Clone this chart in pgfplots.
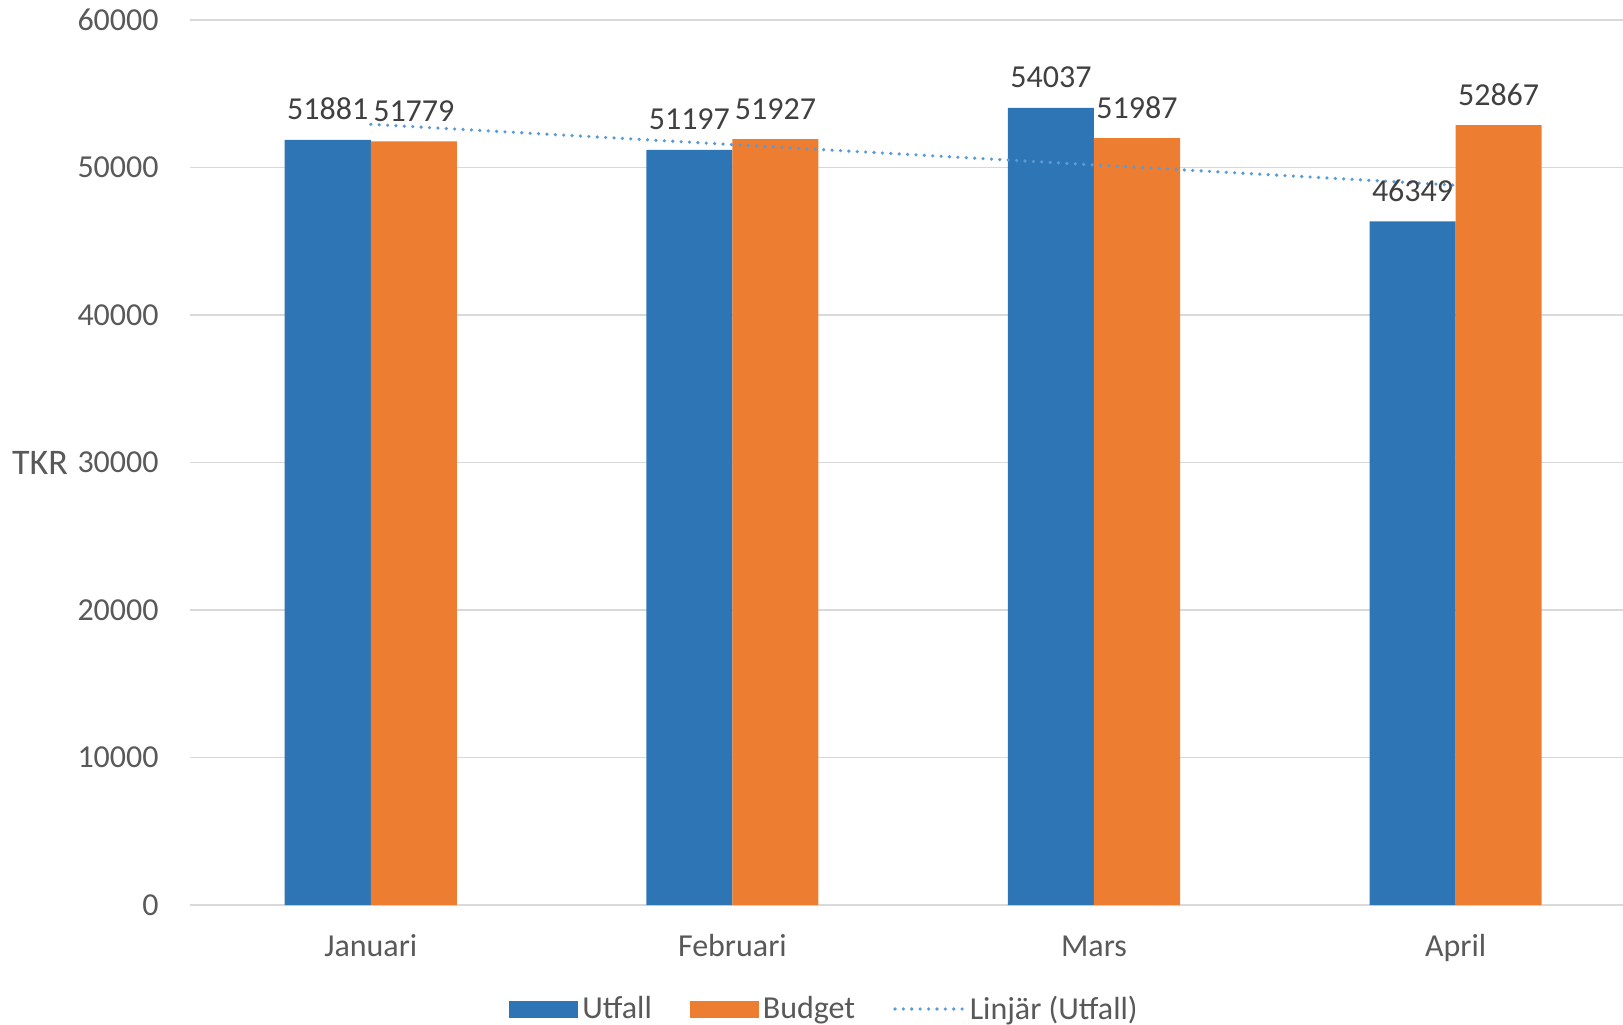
\documentclass[border=0pt]{standalone}
\usepackage{fontspec}
\setmainfont{Carlito}
\usepackage{pgfplots}
\pgfplotsset{compat=1.18}
\definecolor{blueC}{HTML}{2E75B6}
\definecolor{orangeC}{HTML}{ED7D31}
\definecolor{trendC}{HTML}{5B9BD5}
\definecolor{gridC}{HTML}{D9D9D9}
\definecolor{tickC}{HTML}{595959}
\definecolor{labC}{HTML}{404040}
\newcommand{\chfont}{\fontsize{16pt}{19pt}\selectfont}
\begin{document}
\begin{tikzpicture}
\begin{axis}[
  at={(95pt,59.5pt)}, anchor=south west,
  scale only axis, width=716.5pt, height=442.5pt,
  xmin=-0.5, xmax=3.463, ymin=0, ymax=60000,
  ybar=0pt, bar width=0.238,
  xtick={0,1,2,3}, xticklabels={Januari,Februari,Mars,April},
  ytick={0,10000,20000,30000,40000,50000,60000},
  scaled y ticks=false,
  /pgf/number format/assume math mode=true,
  /pgf/number format/1000 sep={},
  ymajorgrids, grid style={color=gridC, line width=0.8pt},
  axis line style={draw=none},
  major tick length=0pt, tick style={draw=none},
  yticklabel style={font=\chfont, text=tickC, anchor=east, inner sep=0pt, xshift=-15.5pt},
  xticklabel style={font=\chfont, text=tickC, anchor=base, inner sep=0pt, yshift=-25.5pt},
  ylabel={TKR},
  ylabel style={at={(axis description cs:0,0.5)}, anchor=center, rotate=-90, xshift=-75pt,
    font=\fontsize{18pt}{21pt}\selectfont, text=tickC},
  clip=false,
  legend columns=3,
  legend style={draw=none, fill=none, at={(axis description cs:0.4435,0)}, anchor=center, yshift=-52pt,
    font=\chfont, text=tickC, /tikz/every even column/.append style={column sep=17pt}},
]
\addplot[fill=blueC, draw=none,
  nodes near coords={\pgfmathprintnumber[assume math mode=true,1000 sep={}]{\pgfplotspointmeta}},
  every node near coord/.append style={font=\chfont, text=labC, anchor=base, inner sep=0pt, yshift=10pt},
  legend image code/.code={\fill[blueC] (0pt,-4.25pt) rectangle (34.5pt,4.25pt);}]
  coordinates {(0,51881) (1,51197) (2,54037) (3,46349)};
\addlegendentry{Utfall}
\addplot[fill=orangeC, draw=none,
  nodes near coords={\pgfmathprintnumber[assume math mode=true,1000 sep={}]{\pgfplotspointmeta}},
  every node near coord/.append style={font=\chfont, text=labC, anchor=base, inner sep=0pt, yshift=10pt},
  legend image code/.code={\fill[orangeC] (0pt,-4.25pt) rectangle (34.5pt,4.25pt);}]
  coordinates {(0,51779) (1,51927) (2,51987) (3,52867)};
\addlegendentry{Budget}
\addplot[sharp plot, trendC, line width=1.8pt, line cap=round, dash pattern=on 0pt off 4.2pt,
  legend image code/.code={\draw[trendC, line width=1.8pt, line cap=round, dash pattern=on 0pt off 4.2pt] (0pt,0pt) -- (34.5pt,0pt);}]
  coordinates {(0,52929.4) (3,48802.6)};
\addlegendentry{Linjär (Utfall)}
\end{axis}
\pgfresetboundingbox
\useasboundingbox (0,0) rectangle (811.5pt,512pt);
\end{tikzpicture}
\end{document}
